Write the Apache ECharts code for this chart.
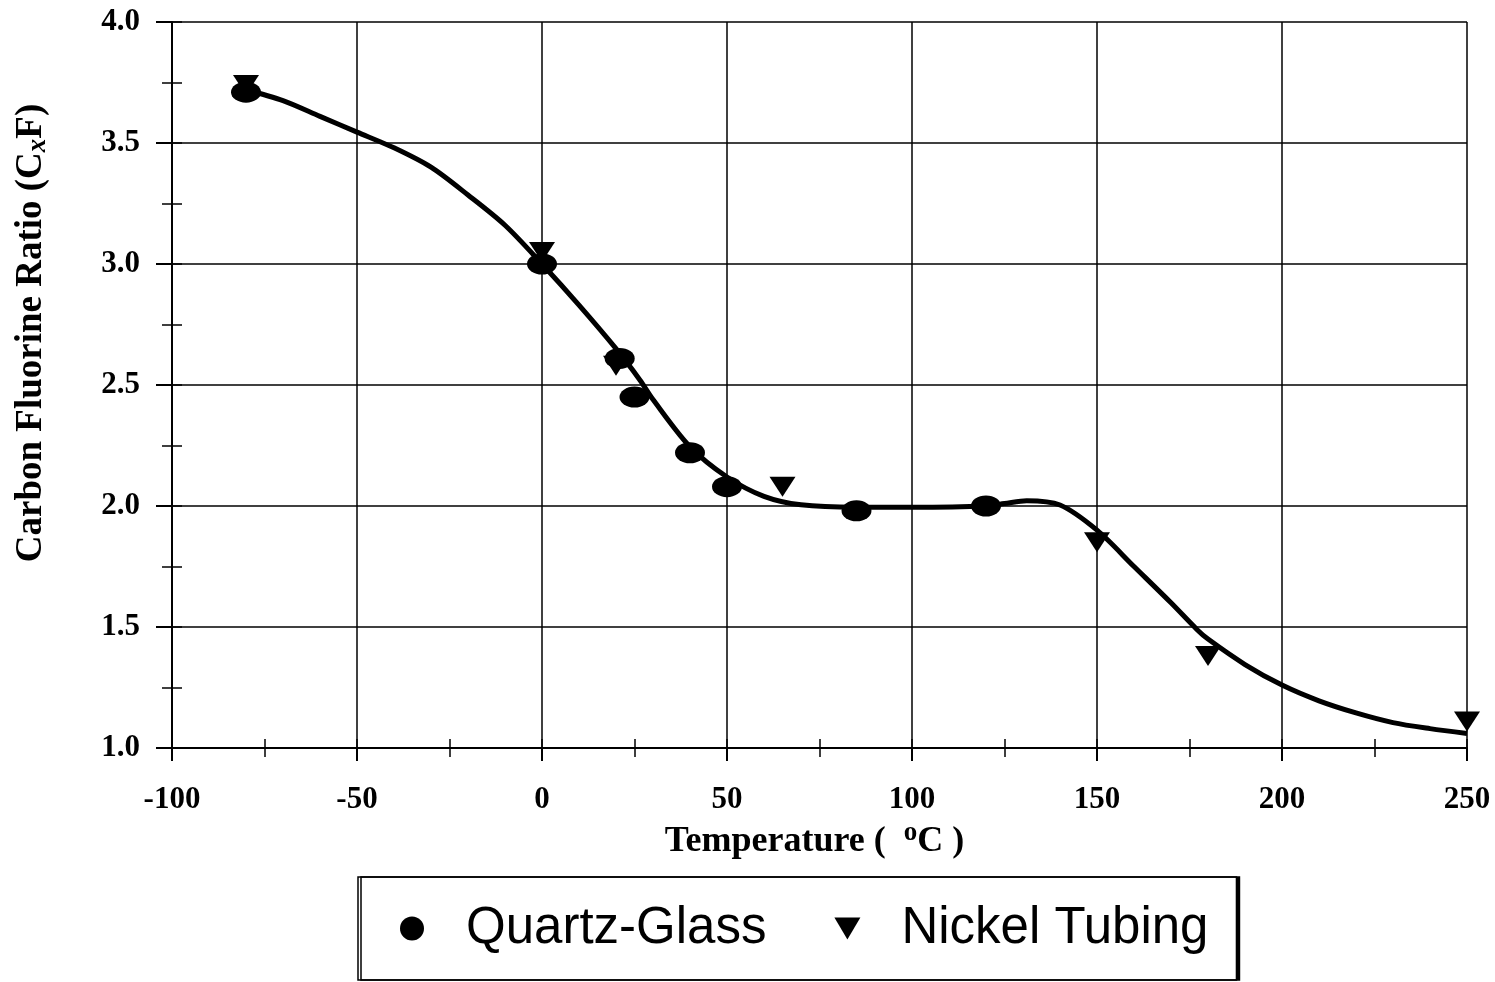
<!DOCTYPE html>
<html>
<head>
<meta charset="utf-8">
<script src="https://cdn.jsdelivr.net/npm/echarts@6/dist/echarts.min.js"></script>
<style>
html,body{margin:0;padding:0;background:#fff;}
#c{width:1495px;height:982px;}
</style>
</head>
<body>
<div id="c"></div>
<script>
// Data
const quartzX = [-80, 0, 21, 25, 40, 50, 85, 120];
const quartzY = [3.71, 3.0, 2.61, 2.45, 2.22, 2.08, 1.98, 2.0];
const nickelX = [-80, 0, 20, 65, 150, 180, 250];
const nickelY = [3.74, 3.05, 2.58, 2.08, 1.85, 1.38, 1.11];
const fitX = [-80, -70, -60, -50, -40, -30, -20, -10, 0, 10, 20, 26.5, 30, 40, 50, 60, 70, 85, 100, 120, 125, 131, 140, 150, 160, 170, 177, 180, 190, 200, 210, 220, 230, 240, 250];
const fitY = [3.72, 3.675, 3.61, 3.545, 3.48, 3.40, 3.285, 3.16, 3.0, 2.83, 2.65, 2.52, 2.44, 2.245, 2.12, 2.04, 2.005, 1.995, 1.995, 2.0, 2.01, 2.022, 2.004, 1.90, 1.75, 1.60, 1.49, 1.45, 1.345, 1.26, 1.195, 1.145, 1.105, 1.08, 1.06];
const xTicks = {min: -100, max: 250, interval: 50, minorInterval: 25};
const yTicks = {min: 1.0, max: 4.0, interval: 0.5, minorInterval: 0.25};

const pair = (xs, ys) => xs.map((x, i) => [x, ys[i]]);
const serif = '"Liberation Serif", "Times New Roman", serif';
const sans = '"Liberation Sans", Arial, sans-serif';
const downTri = 'path://M0,0 L20,0 L10,17 Z';
const gridBox = {left: 172, right: 28, top: 22, bottom: 234};
const plotW = 1495 - gridBox.left - gridBox.right;
const plotH = 982 - gridBox.top - gridBox.bottom;

const chart = echarts.init(document.getElementById('c'));
chart.setOption({
  animation: false,
  backgroundColor: '#fff',
  grid: gridBox,
  legend: {
    data: [{name: 'Quartz-Glass', icon: 'circle'}, {name: 'Nickel Tubing', icon: downTri}],
    left: 358, top: 877,
    padding: [26, 28, 26, 42],
    itemGap: 68,
    itemWidth: 26, itemHeight: 24,
    borderColor: '#000', borderWidth: 1.5,
    backgroundColor: '#fff',
    shadowColor: '#000', shadowOffsetX: 3, shadowOffsetY: 0, shadowBlur: 0,
    textStyle: {fontFamily: sans, fontSize: 51, color: '#000', padding: [0, 0, 0, 36]},
    itemStyle: {color: '#000'}
  },
  xAxis: [{
    type: 'value', min: xTicks.min, max: xTicks.max, interval: xTicks.interval,
    name: 'Temperature (  {sup|o}C )',
    nameLocation: 'middle', nameGap: 70,
    nameTextStyle: {fontFamily: serif, fontWeight: 'bold', fontSize: 36, color: '#000', padding: [0, 10, 0, 0],
      rich: {sup: {fontFamily: serif, fontWeight: 'bold', fontSize: 27, color: '#000', padding: [0, 0, 16, 0]}}},
    axisLine: {show: true, onZero: false, lineStyle: {color: '#000', width: 2}},
    axisTick: {show: true, length: 13, lineStyle: {color: '#000', width: 2}},
    minorTick: {show: true, splitNumber: 2, length: 9, lineStyle: {color: '#000', width: 1.5}},
    splitLine: {show: true, lineStyle: {color: '#000', width: 1.5}},
    axisLabel: {margin: 36, fontFamily: serif, fontWeight: 'bold', fontSize: 31, color: '#000'}
  }, {
    type: 'value', gridIndex: 0, min: xTicks.min, max: xTicks.max, interval: xTicks.minorInterval,
    position: 'top', offset: -plotH,
    axisLine: {show: false, onZero: false}, axisLabel: {show: false}, splitLine: {show: false},
    axisTick: {show: true, length: 9, lineStyle: {color: '#000', width: 1.5}}
  }],
  yAxis: [{
    type: 'value', min: yTicks.min, max: yTicks.max, interval: yTicks.interval,
    name: 'Carbon Fluorine Ratio (C{sub|x}F)',
    nameLocation: 'middle', nameGap: 120, nameRotate: 90,
    nameTextStyle: {fontFamily: serif, fontWeight: 'bold', fontSize: 37, color: '#000', padding: [0, 0, 0, 104],
      rich: {sub: {fontFamily: serif, fontWeight: 'bold', fontStyle: 'italic', fontSize: 27, color: '#000', padding: [14, 0, 0, 0]}}},
    axisLine: {show: true, onZero: false, lineStyle: {color: '#000', width: 2}},
    axisTick: {show: true, length: 16, lineStyle: {color: '#000', width: 2}},
    minorTick: {show: true, splitNumber: 2, length: 10, lineStyle: {color: '#000', width: 1.5}},
    splitLine: {show: true, lineStyle: {color: '#000', width: 1.5}},
    axisLabel: {margin: 32, fontFamily: serif, fontWeight: 'bold', fontSize: 31, color: '#000',
      formatter: v => v.toFixed(1)}
  }, {
    type: 'value', gridIndex: 0, min: yTicks.min, max: yTicks.max, interval: yTicks.minorInterval,
    position: 'right', offset: -plotW,
    axisLine: {show: false, onZero: false}, axisLabel: {show: false}, splitLine: {show: false},
    axisTick: {show: true, length: 10, lineStyle: {color: '#000', width: 1.5}}
  }],
  series: [{
    name: 'Fit', type: 'line', data: pair(fitX, fitY), showSymbol: false, symbol: 'none',
    smooth: 0.3, lineStyle: {color: '#000', width: 5}, z: 2, silent: true
  }, {
    name: 'Nickel Tubing', type: 'scatter', data: pair(nickelX, nickelY),
    symbol: 'triangle', symbolRotate: 180, symbolSize: [26, 20],
    itemStyle: {color: '#000', opacity: 1}, z: 3
  }, {
    name: 'Quartz-Glass', type: 'scatter', data: pair(quartzX, quartzY),
    symbol: 'circle', symbolSize: [30, 21],
    itemStyle: {color: '#000', opacity: 1}, z: 4
  }]
});
</script>
</body>
</html>
